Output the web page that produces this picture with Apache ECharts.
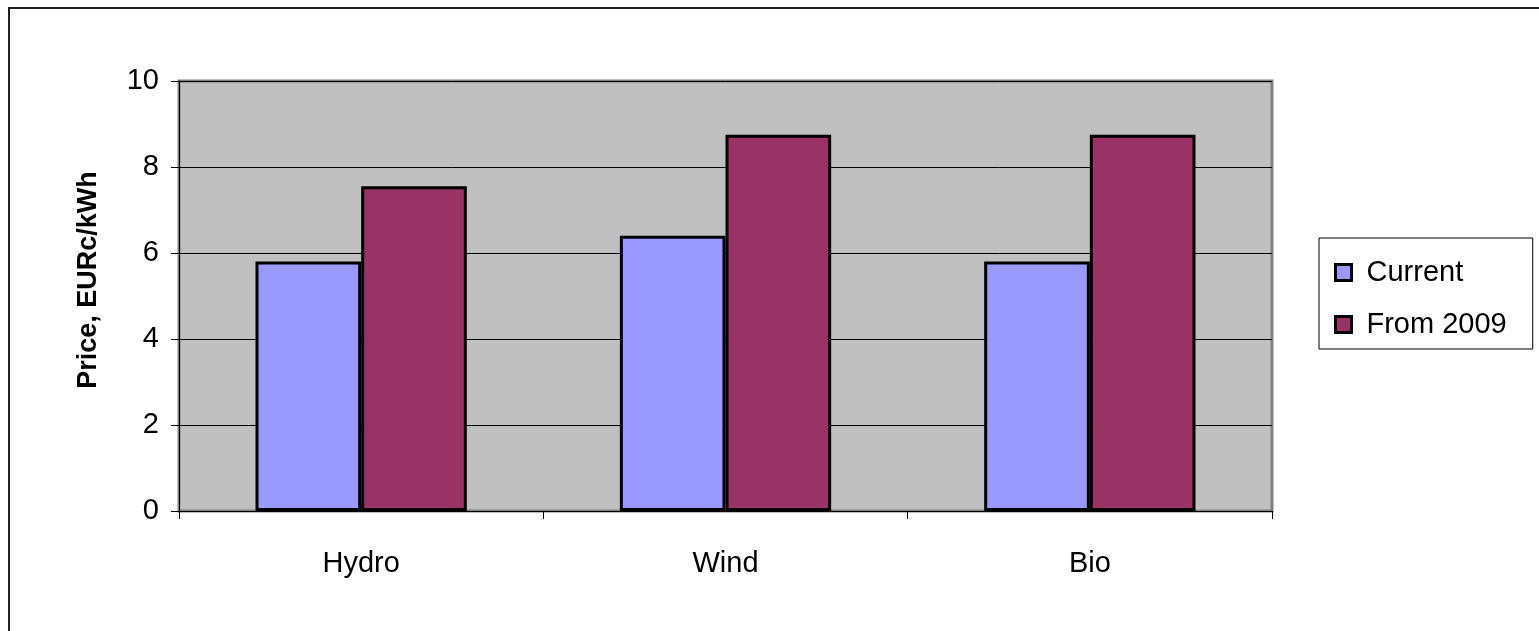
<!DOCTYPE html>
<html>
<head>
<meta charset="utf-8">
<script src="https://cdn.jsdelivr.net/npm/echarts@6/dist/echarts.min.js"></script>
<style>
html,body{margin:0;padding:0;width:1539px;height:631px;overflow:hidden;background:#fff;}
#frame{position:absolute;left:8px;top:7px;width:1600px;height:700px;border:2px solid #222;box-sizing:border-box;}
#chart{position:absolute;left:0;top:0;width:1539px;height:631px;}
</style>
</head>
<body>
<div id="frame"></div>
<div id="chart"></div>
<script>
const categories = ['Hydro', 'Wind', 'Bio'];
const seriesNames = ['Current', 'From 2009'];
const currentValues = [5.8, 6.4, 5.8];
const from2009Values = [7.55, 8.75, 8.75];
const yTicks = [0, 2, 4, 6, 8, 10];

const FONT = '"Liberation Sans", Arial, sans-serif';
const chart = echarts.init(document.getElementById('chart'), null, {renderer: 'canvas'});
chart.setOption({
  animation: false,
  textStyle: {fontFamily: FONT},
  grid: {
    left: 179, top: 81, right: 267, bottom: 120,
    show: true, backgroundColor: '#C0C0C0', borderColor: '#808080', borderWidth: 3
  },
  legend: {
    orient: 'vertical',
    left: 1319, top: 238,
    backgroundColor: '#fff',
    borderColor: '#000', borderWidth: 1,
    padding: [20, 26, 10, 15],
    icon: 'rect',
    itemWidth: 16, itemHeight: 16,
    itemGap: 23,
    itemStyle: {borderColor: '#000', borderWidth: 3},
    textStyle: {fontSize: 29, color: '#000', fontFamily: FONT, padding: [0, 0, 0, 10]},
    data: seriesNames
  },
  xAxis: {
    type: 'category',
    data: categories,
    axisLine: {show: true, lineStyle: {color: '#000', width: 1}},
    axisTick: {show: true, length: 8, lineStyle: {color: '#000'}},
    axisLabel: {fontSize: 29, color: '#000', margin: 38, fontFamily: FONT},
    splitLine: {show: false}
  },
  yAxis: {
    type: 'value',
    min: yTicks[0], max: yTicks[yTicks.length - 1], interval: 2,
    name: 'Price, EURc/kWh',
    nameLocation: 'middle',
    nameGap: 77,
    nameTextStyle: {fontSize: 27, fontWeight: 'bold', color: '#000', fontFamily: FONT, padding: [0, 0, 0, 32]},
    axisLine: {show: true, lineStyle: {color: '#000', width: 1}},
    axisTick: {show: true, length: 8, lineStyle: {color: '#000'}},
    axisLabel: {fontSize: 29, color: '#000', margin: 20, fontFamily: FONT},
    splitLine: {show: true, lineStyle: {color: '#000', width: 1}}
  },
  series: [
    {
      name: seriesNames[0], type: 'bar', data: currentValues,
      barGap: '0%', barCategoryGap: '42%',
      itemStyle: {color: '#9999FF', borderColor: '#000', borderWidth: 3}
    },
    {
      name: seriesNames[1], type: 'bar', data: from2009Values,
      barGap: '0%', barCategoryGap: '42%',
      itemStyle: {color: '#993366', borderColor: '#000', borderWidth: 3}
    }
  ]
});
</script>
</body>
</html>
